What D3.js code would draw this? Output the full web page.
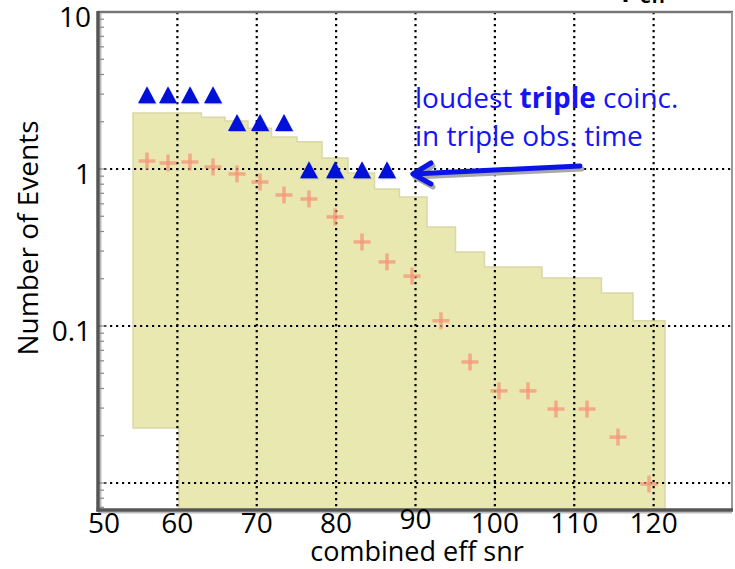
<!DOCTYPE html>
<html>
<head>
<meta charset="utf-8">
<script src="https://cdn.jsdelivr.net/npm/d3@7"></script>
<style>
  html, body { margin: 0; padding: 0; background: #fff; }
  svg { display: block; font-family: "Open Sans", "DejaVu Sans", sans-serif; }
</style>
</head>
<body>
<svg id="chart" width="735" height="569"></svg>
<script>
// ---- data ----
const binEdges = [54.41, 57.50, 60.20, 63.04, 66.00, 68.90, 71.86, 75.07, 78.22, 81.50, 84.84,
                  87.98, 91.45, 95.04, 98.69, 102.35, 105.94, 109.65, 113.43, 117.40, 121.43];
const bandUpper = [2.27, 2.27, 2.27, 2.14, 2.02, 1.82, 1.60, 1.49, 1.175, 0.943,
                   0.746, 0.663, 0.427, 0.296, 0.238, 0.238, 0.202, 0.202, 0.162, 0.108];
const bandLower = [0.0224, 0.0224, 0, 0, 0, 0, 0, 0, 0, 0,
                   0, 0, 0, 0, 0, 0, 0, 0, 0, 0];
const bgX = [56.17, 58.82, 61.59, 64.49, 67.51, 70.41, 73.43, 76.58, 79.86, 83.26,
             86.41, 89.56, 93.21, 96.87, 100.52, 104.17, 107.70, 111.61, 115.51, 119.42];
const bgMean = [1.124, 1.092, 1.108, 1.03, 0.93, 0.826, 0.683, 0.644, 0.495, 0.343,
                0.256, 0.208, 0.108, 0.059, 0.0386, 0.0386, 0.0296, 0.0296, 0.0196, 0.00985];
const fgX = [56.17, 58.82, 61.59, 64.49, 67.51, 70.41, 73.43, 76.58, 79.86, 83.26, 86.41];
const fgCount = [3, 3, 3, 3, 2, 2, 2, 1, 1, 1, 1];
const xTicks = [50, 60, 70, 80, 90, 100, 110, 120];
const xGrid = [60, 70, 80, 90, 100, 110, 120];
const yTicks = [10, 1, 0.1];
const yTickLabels = ["10", "1", "0.1"];
const yGrid = [1, 0.1, 0.01];
const xTitle = "combined eff snr";
const yTitle = "Number of Events";

// ---- layout ----
const svg = d3.select("#chart");
const L = 98, R = 732, T = 12, B = 510;
const x = d3.scaleLinear().domain([50, 130]).range([L, L + 635]);
const yMin = 0.00673;
const y = d3.scaleLog().domain([yMin, 10]).range([B, T]);
const yc = v => y(Math.max(v, yMin));

svg.append("defs").append("clipPath").attr("id", "plotclip")
  .append("rect").attr("x", L).attr("y", T).attr("width", R - L).attr("height", B - T);

const plot = svg.append("g").attr("clip-path", "url(#plotclip)");

// band (stepped area)
const bandData = [];
bandUpper.forEach((u, i) => {
  bandData.push({x: binEdges[i], u: u, l: bandLower[i]});
  bandData.push({x: binEdges[i + 1], u: u, l: bandLower[i]});
});
const area = d3.area()
  .x(d => x(d.x))
  .y0(d => yc(d.l) + (d.l <= 0 ? 4 : 0))
  .y1(d => y(d.u));
plot.append("path").datum(bandData)
  .attr("d", area)
  .attr("fill", "#e9e8b1")
  .attr("stroke", "#d9d8a6")
  .attr("stroke-width", 1.5);

// grid
const grid = plot.append("g").attr("stroke", "#000").attr("stroke-width", 2.2)
  .attr("stroke-dasharray", "2.2,3.8");
grid.selectAll("line.h").data(yGrid).join("line")
  .attr("x1", L).attr("x2", R).attr("y1", d => y(d)).attr("y2", d => y(d));
grid.selectAll("line.v").data(xGrid).join("line")
  .attr("y1", T).attr("y2", B).attr("x1", d => x(d)).attr("x2", d => x(d));

// background mean markers (+)
const plus = plot.append("g").attr("stroke", "#f4967a").attr("stroke-width", 3.5)
  .attr("stroke-opacity", 0.75);
bgX.forEach((xv, i) => {
  const cx = x(xv), cy = y(bgMean[i]);
  plus.append("line").attr("x1", cx - 8.5).attr("x2", cx + 8.5).attr("y1", cy).attr("y2", cy);
  plus.append("line").attr("x1", cx).attr("x2", cx).attr("y1", cy - 8.5).attr("y2", cy + 8.5);
});

// foreground triangles
const tri = "M0,-8.8L9,8.2L-9,8.2Z";
plot.append("g").selectAll("path.sh").data(fgX).join("path")
  .attr("d", tri)
  .attr("transform", (d, i) => `translate(${x(d) + 1},${y(fgCount[i]) + 2})`)
  .attr("fill", "#7a7aa8").attr("opacity", 0.45);
plot.append("g").selectAll("path.tr").data(fgX).join("path")
  .attr("d", tri)
  .attr("transform", (d, i) => `translate(${x(d)},${y(fgCount[i]) + 1})`)
  .attr("fill", "#0010d8");

// frame
svg.append("line").attr("x1", L).attr("x2", R + 1).attr("y1", T).attr("y2", T)
  .attr("stroke", "#777").attr("stroke-width", 2.5);
svg.append("line").attr("x1", R).attr("x2", R).attr("y1", T).attr("y2", B)
  .attr("stroke", "#999").attr("stroke-width", 2);
svg.append("line").attr("x1", L + 2.5).attr("x2", L + 2.5).attr("y1", T + 1).attr("y2", B)
  .attr("stroke", "#bbb").attr("stroke-width", 2);
svg.append("line").attr("x1", L).attr("x2", R).attr("y1", B + 2.5).attr("y2", B + 2.5)
  .attr("stroke", "#bbb").attr("stroke-width", 2);
svg.append("line").attr("x1", L).attr("x2", L).attr("y1", T - 1).attr("y2", B + 1.5)
  .attr("stroke", "#555").attr("stroke-width", 3.5);
svg.append("line").attr("x1", L - 1.5).attr("x2", R + 1).attr("y1", B).attr("y2", B)
  .attr("stroke", "#555").attr("stroke-width", 3.5);

// left axis minor ticks
const minor = [];
for (let e = -3; e <= 0; e++) for (let m = 1; m <= 9; m++) {
  const v = m * Math.pow(10, e);
  if (v > yMin && v < 10) minor.push(v);
}
svg.append("g").selectAll("line").data(minor).join("line")
  .attr("x1", L + 2).attr("x2", d => L + (Math.abs(Math.log10(d) - Math.round(Math.log10(d))) < 1e-6 ? 9 : 6))
  .attr("y1", d => y(d)).attr("y2", d => y(d))
  .attr("stroke", "#888").attr("stroke-width", 1.2);

// tick labels
svg.append("g").selectAll("text").data(yTicks).join("text")
  .attr("x", 91).attr("y", d => y(d) + 15)
  .attr("text-anchor", "end").attr("font-size", 28).attr("fill", "#000")
  .text((d, i) => yTickLabels[i]);
svg.append("g").selectAll("text").data(xTicks).join("text")
  .attr("x", d => x(d) + (d === 50 ? 6 : 0))
  .attr("y", d => d === 90 ? 529 : 533)
  .attr("text-anchor", "middle").attr("font-size", 28).attr("fill", "#000")
  .text(d => d);

// axis titles
svg.append("text").attr("x", 417).attr("y", 561).attr("text-anchor", "middle")
  .attr("font-size", 27).attr("fill", "#000").text(xTitle);
svg.append("text").attr("transform", "translate(38,238) rotate(-90)")
  .attr("text-anchor", "middle").attr("font-size", 28).attr("fill", "#000").text(yTitle);

// partially clipped title at top right (rho_eff)
const ttl = svg.append("text").attr("x", 622).attr("y", -4).attr("font-size", 26)
  .attr("font-weight", "bold").attr("fill", "#000");
ttl.append("tspan").text("ρ");
ttl.append("tspan").attr("font-size", 19).attr("dy", 7).attr("dx", 2).text("eff");

// annotation
const ann = svg.append("text").attr("x", 415).attr("y", 108).attr("font-size", 28).attr("fill", "#1414f5");
ann.append("tspan").text("loudest ");
ann.append("tspan").attr("font-weight", "bold").text("triple");
ann.append("tspan").text(" coinc.");
svg.append("text").attr("x", 415).attr("y", 146).attr("font-size", 28).attr("fill", "#1414f5")
  .text("in triple obs. time");

// arrow (with shadow)
function arrow(g, dx, dy, color) {
  const p = g.append("g").attr("transform", `translate(${dx},${dy})`)
    .attr("stroke", color).attr("stroke-width", 5).attr("fill", "none")
    .attr("stroke-linecap", "round").attr("stroke-linejoin", "round");
  p.append("line").attr("x1", 580).attr("y1", 166).attr("x2", 413).attr("y2", 174);
  p.append("path").attr("d", "M431,163L413,174L431,184");
}
arrow(svg, 2, 3, "#a8a8a8");
arrow(svg, 0, 0, "#0a14e6");
</script>
</body>
</html>
